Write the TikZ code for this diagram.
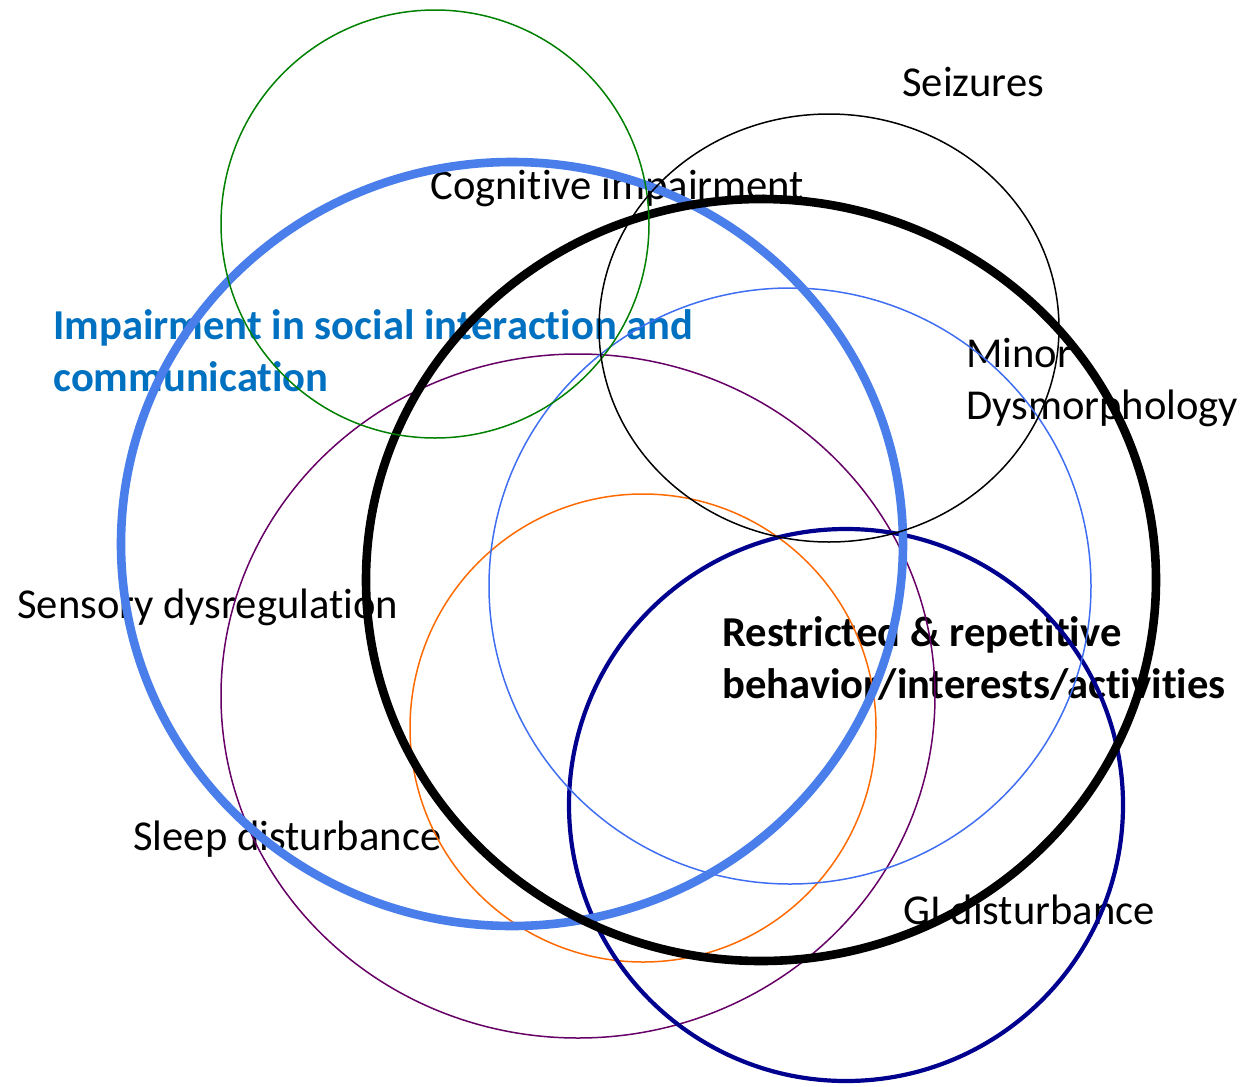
\documentclass[tikz,border=0pt]{standalone}
\usepackage{fontspec}
\setmainfont[Ligatures=NoCommon,Contextuals=NoAlternate]{Carlito}
\usepackage{xcolor}
\usepackage{tikz}
\definecolor{ringblue}{HTML}{4A7EEB}
\definecolor{textblue}{HTML}{0070C0}
\definecolor{thinblue}{HTML}{3F6EF2}
\definecolor{plum}{HTML}{660066}
\definecolor{tangerine}{HTML}{FF6A00}
\definecolor{deepnavy}{HTML}{00008E}
\definecolor{leaf}{HTML}{008000}

\begin{document}
\begin{tikzpicture}[x=0.5pt,y=-0.5pt,
  lbl/.style={anchor=base west,inner sep=0pt,align=left,font=\fontsize{21.3pt}{25.8pt}\selectfont},
  blbl/.style={lbl,font=\fontsize{21.3pt}{25.6pt}\selectfont\bfseries},
  ring/.style={line width=0.75pt}
]
\useasboundingbox (0,0) rectangle (1248,1087);
% labels first, the rings cross over them (base = last line)
\node[lbl] (seiz) at (902,96) {Seizures};
\node[lbl] (cogn) at (430,199) {Cognitive impairment};
\node[blbl,text=textblue] (social) at (53,391) {Impairment in social interaction and\\communication};
\node[lbl] (dysm) at (966,419) {Minor\\Dysmorphology};
\node[lbl] (sens) at (17,618) {Sensory dysregulation};
\node[blbl] (rrb) at (722,698) {Restricted \& repetitive\\behavior/interests/activities};
\node[lbl] (sleep) at (133,850) {Sleep disturbance};
\node[lbl] (gi) at (903,924) {GI disturbance};
% rings
\draw[ring,plum] (578,696) ellipse [x radius=357,y radius=342];
\draw[ring,tangerine] (643,728) ellipse [x radius=233,y radius=234];
\draw[deepnavy,line width=2.1pt] (846,805) ellipse [x radius=277,y radius=276];
\draw[ring,thinblue] (790,586) ellipse [x radius=301,y radius=298];
\draw[ringblue,line width=4.3pt] (512,544) ellipse [x radius=391,y radius=382];
\draw[black,line width=4.3pt] (761,580) ellipse [x radius=395,y radius=381];
\draw[ring,leaf] (435,224) ellipse [x radius=214,y radius=214];
\draw[ring,black] (829,328) ellipse [x radius=230,y radius=214];
\end{tikzpicture}
\end{document}
